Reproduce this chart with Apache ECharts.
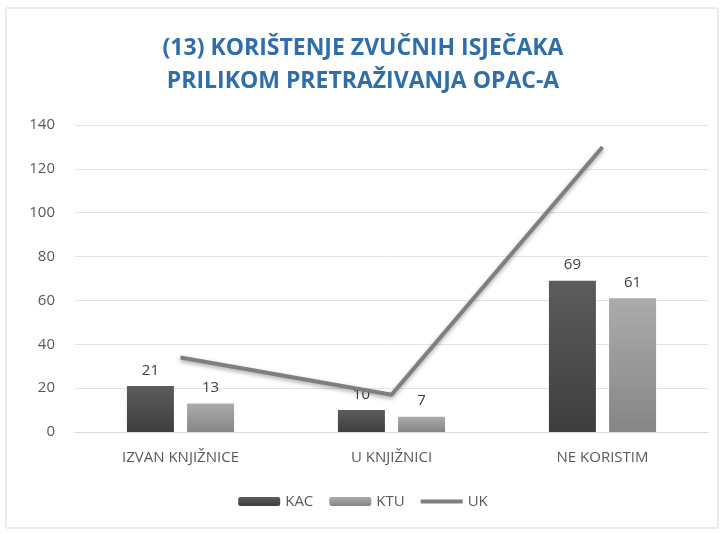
<!DOCTYPE html>
<html>
<head>
<meta charset="utf-8">
<script src="https://cdn.jsdelivr.net/npm/echarts@6/dist/echarts.min.js"></script>
<style>
  html, body { margin: 0; padding: 0; background: #fff; }
  #chart { width: 726px; height: 534px; }
</style>
</head>
<body>
<div id="chart"></div>
<script>
// podaci
const categories = ['IZVAN KNJIŽNICE', 'U KNJIŽNICI', 'NE KORISTIM']
const kac = [21, 10, 69]
const ktu = [13, 7, 61]
const uk = [34, 17, 130]

const chart = echarts.init(document.getElementById('chart'))

const labelStyle = {
  show: true,
  position: 'top',
  distance: 8,
  color: '#404040',
  fontSize: 15,
  fontFamily: 'Open Sans'
}

chart.setOption({
  backgroundColor: '#fff',
  animation: false,
  graphic: [{
    type: 'rect',
    shape: { x: 6, y: 8, width: 712, height: 520 },
    style: { fill: 'none', stroke: '#d9d9d9', lineWidth: 1 }
  }],
  title: {
    text: '(13) KORIŠTENJE ZVUČNIH ISJEČAKA\nPRILIKOM PRETRAŽIVANJA OPAC-A',
    left: 'center',
    top: 27,
    textStyle: {
      color: '#2f6ea8',
      fontSize: 23,
      fontWeight: 'bold',
      fontFamily: 'Open Sans',
      lineHeight: 33
    }
  },
  legend: {
    bottom: 20,
    left: 'center',
    itemWidth: 42,
    itemHeight: 9,
    itemGap: 16,
    textStyle: { color: '#595959', fontSize: 15, fontFamily: 'Open Sans' },
    data: [
      { name: 'KAC' },
      { name: 'KTU' },
      { name: 'UK', icon: 'path://M0,0 L42,0 L42,4 L0,4 Z' }
    ]
  },
  grid: { left: 75, right: 18, top: 125, bottom: 102 },
  xAxis: {
    type: 'category',
    data: categories,
    axisTick: { show: false },
    axisLine: { lineStyle: { color: '#d9d9d9' } },
    axisLabel: { color: '#595959', fontSize: 15, fontFamily: 'Open Sans', margin: 18 }
  },
  yAxis: {
    type: 'value',
    min: 0,
    max: 140,
    interval: 20,
    axisLine: { show: false },
    axisTick: { show: false },
    splitLine: { lineStyle: { color: '#e3e3e3' } },
    axisLabel: { color: '#595959', fontSize: 15, fontFamily: 'Open Sans', margin: 20 }
  },
  series: [
    {
      name: 'KAC',
      type: 'bar',
      data: kac,
      barWidth: 47,
      barGap: '28%',
      itemStyle: {
        color: new echarts.graphic.LinearGradient(0, 0, 0, 1, [
          { offset: 0, color: '#5c5c5c' },
          { offset: 1, color: '#3e3e3e' }
        ])
      },
      label: labelStyle
    },
    {
      name: 'KTU',
      type: 'bar',
      data: ktu,
      barWidth: 47,
      itemStyle: {
        color: new echarts.graphic.LinearGradient(0, 0, 0, 1, [
          { offset: 0, color: '#ababab' },
          { offset: 1, color: '#868686' }
        ])
      },
      label: labelStyle
    },
    {
      name: 'UK',
      type: 'line',
      data: uk,
      symbol: 'none',
      lineStyle: {
        color: '#7f7f7f',
        width: 4,
        shadowColor: 'rgba(0,0,0,0.35)',
        shadowBlur: 4,
        shadowOffsetY: 2
      },
      itemStyle: { color: '#7f7f7f' }
    }
  ]
})
</script>
</body>
</html>
